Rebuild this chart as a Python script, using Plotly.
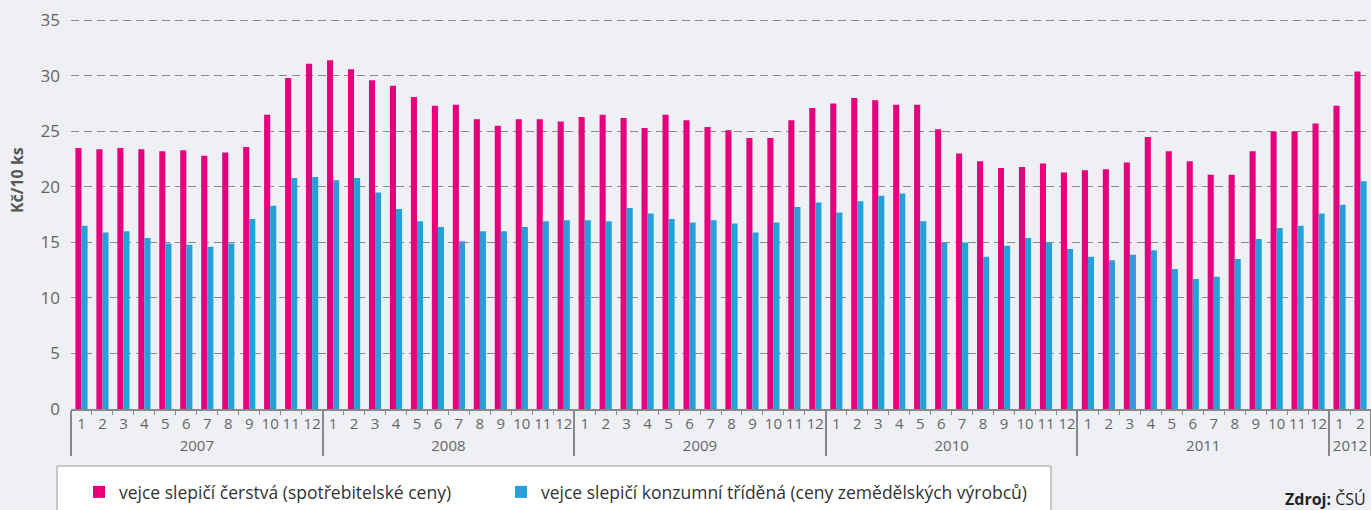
import plotly.graph_objects as go

years = ["2007"] * 12 + ["2008"] * 12 + ["2009"] * 12 + ["2010"] * 12 + ["2011"] * 12 + ["2012"] * 2
months = [str(m) for m in range(1, 13)] * 5 + ["1", "2"]

consumer = [23.5, 23.4, 23.5, 23.4, 23.2, 23.3, 22.8, 23.1, 23.6, 26.5, 29.8, 31.1,
            31.4, 30.6, 29.6, 29.1, 28.1, 27.3, 27.4, 26.1, 25.5, 26.1, 26.1, 25.9,
            26.3, 26.5, 26.2, 25.3, 26.5, 26.0, 25.4, 25.1, 24.4, 24.4, 26.0, 27.1,
            27.5, 28.0, 27.8, 27.4, 27.4, 25.2, 23.0, 22.3, 21.7, 21.8, 22.1, 21.3,
            21.5, 21.6, 22.2, 24.5, 23.2, 22.3, 21.1, 21.1, 23.2, 25.0, 25.0, 25.7,
            27.3, 30.4]
producer = [16.5, 15.9, 16.0, 15.4, 14.9, 14.8, 14.6, 14.9, 17.1, 18.3, 20.8, 20.9,
            20.6, 20.8, 19.5, 18.0, 16.9, 16.4, 15.1, 16.0, 16.0, 16.4, 16.9, 17.0,
            17.0, 16.9, 18.1, 17.6, 17.1, 16.8, 17.0, 16.7, 15.9, 16.8, 18.2, 18.6,
            17.7, 18.7, 19.2, 19.4, 16.9, 15.0, 15.0, 13.7, 14.7, 15.4, 15.0, 14.4,
            13.7, 13.4, 13.9, 14.3, 12.6, 11.7, 11.9, 13.5, 15.3, 16.3, 16.5, 17.6,
            18.4, 20.5]

name_consumer = "vejce slepičí čerstvá (spotřebitelské ceny)"
name_producer = "vejce slepičí konzumní tříděná (ceny zemědělských výrobců)"

PINK = "#e6007e"
BLUE = "#27a0da"
FONT = "Open Sans"

YMAX = 35.3
L, R, B = 71, 0, 101
W, H = 1371, 510
unit = (409 - 20) / 35.0
T = int(round(409 - YMAX * unit))
pw, ph = W - L - R, H - T - B


def px_x(p):
    return (p - L) / pw


def px_y(p):
    return (H - B - p) / ph


fig = go.Figure()
fig.add_trace(go.Bar(x=[years, months], y=consumer, name=name_consumer, legend="legend",
                     marker=dict(color=PINK, line=dict(width=0))))
fig.add_trace(go.Bar(x=[years, months], y=producer, name=name_producer, legend="legend2",
                     marker=dict(color=BLUE, line=dict(width=0))))

fig.add_shape(type="rect", xref="paper", yref="paper",
              x0=px_x(57), x1=px_x(1051), y0=px_y(530), y1=px_y(466),
              fillcolor="white", line=dict(color="#9a9a9a", width=1), layer="below")

fig.add_annotation(text="Kč/10 ks", textangle=-90, xref="paper", yref="paper",
                   x=px_x(17), y=px_y(180), xanchor="center", yanchor="middle",
                   showarrow=False,
                   font=dict(family=FONT, size=16, color="#555555", weight="bold"))
fig.add_annotation(text="<b>Zdroj:</b> ČSÚ", xref="paper", yref="paper",
                   x=px_x(1283), y=px_y(499), xanchor="left", yanchor="middle",
                   showarrow=False, font=dict(family=FONT, size=16, color="#222222"))

legend_common = dict(orientation="h", yanchor="top", xanchor="left",
                     bgcolor="rgba(0,0,0,0)",
                     font=dict(family=FONT, size=17.5, color="#333333"))

fig.update_layout(
    width=W, height=H,
    margin=dict(l=L, r=R, t=T, b=B, autoexpand=False),
    paper_bgcolor="#eef0f4",
    plot_bgcolor="rgba(0,0,0,0)",
    barmode="group",
    bargap=0.42,
    bargroupgap=0,
    font=dict(family=FONT, color="#666666"),
    showlegend=True,
    legend=dict(x=px_x(79), y=px_y(474), **legend_common),
    legend2=dict(x=px_x(501), y=px_y(474), **legend_common),
    xaxis=dict(type="multicategory", range=[-0.5, 61.5], automargin=False,
               showline=True, linecolor="#888888", linewidth=1.5,
               ticks="outside", ticklen=4, tickcolor="#888888", tickson="boundaries",
               tickangle=0,
               showdividers=True, dividercolor="#888888", dividerwidth=1.5,
               tickfont=dict(family=FONT, size=15, color="#666666"),
               showgrid=False),
    yaxis=dict(range=[0, YMAX], tickvals=[0, 5, 10, 15, 20, 25, 30, 35], automargin=False,
               showgrid=True, gridcolor="#8a8a8a", gridwidth=1.3, griddash="8px,5px",
               zeroline=False, showline=False, ticks="",
               tickfont=dict(family=FONT, size=17, color="#666666"),
               ticklabelstandoff=10),
)

fig.write_html("out.html", config={"displayModeBar": False},
               post_script="document.body.style.margin='0';")
